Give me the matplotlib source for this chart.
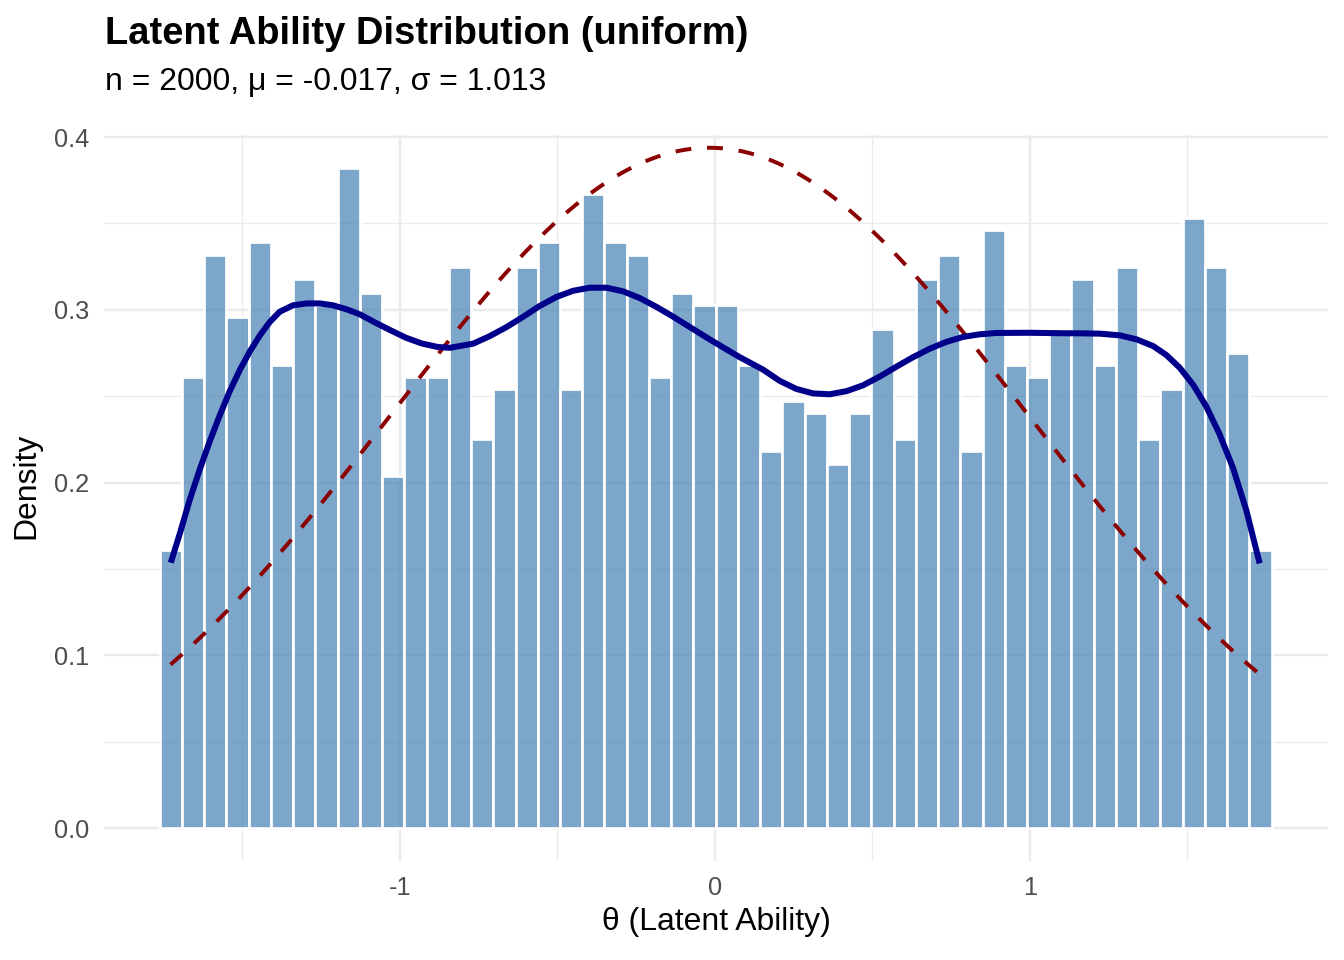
import numpy as np
import matplotlib
matplotlib.use("Agg")
import matplotlib.pyplot as plt

plt.rcParams['font.family'] = ['Liberation Sans', 'DejaVu Sans']

# ---------------- data ----------------
bin_start = -1.762
bin_width = 0.0706
bar_density = [
    0.161, 0.261, 0.332, 0.296, 0.339, 0.268, 0.318, 0.303, 0.382, 0.310,
    0.204, 0.261, 0.261, 0.325, 0.225, 0.254, 0.325, 0.339, 0.254, 0.367,
    0.339, 0.332, 0.261, 0.310, 0.303, 0.303, 0.268, 0.218, 0.247, 0.240,
    0.211, 0.240, 0.289, 0.225, 0.318, 0.332, 0.218, 0.346, 0.268, 0.261,
    0.289, 0.318, 0.268, 0.325, 0.225, 0.254, 0.353, 0.325, 0.275, 0.161,
]

kde_x = [-1.727, -1.698, -1.667, -1.635, -1.603, -1.571, -1.540, -1.508, -1.476,
         -1.444, -1.413, -1.381, -1.339, -1.296, -1.254, -1.212, -1.169, -1.127,
         -1.080, -1.030, -0.980, -0.930, -0.880, -0.841,
         -0.767, -0.714, -0.661, -0.608, -0.556, -0.503, -0.450, -0.397, -0.344,
         -0.291, -0.238, -0.185, -0.132, -0.079, -0.026, 0.026, 0.079, 0.153,
         0.206, 0.259, 0.312, 0.365, 0.418, 0.471, 0.524, 0.577, 0.630, 0.683,
         0.735, 0.788, 0.841, 0.894, 1.000, 1.117, 1.159, 1.222, 1.286, 1.339,
         1.392, 1.434, 1.476, 1.519, 1.561, 1.603, 1.646, 1.688, 1.730]
kde_y = [0.1536, 0.1706, 0.1899, 0.2076, 0.2240, 0.2391, 0.2528, 0.2651, 0.2759,
         0.2852, 0.2929, 0.2989, 0.3026, 0.3037, 0.3037, 0.3026, 0.3003, 0.2974,
         0.2928, 0.2882, 0.2838, 0.2805, 0.2785, 0.2780,
         0.2804, 0.2848, 0.2900, 0.2960, 0.3022, 0.3074, 0.3110, 0.3128, 0.3128,
         0.3107, 0.3068, 0.3017, 0.2960, 0.2900, 0.2840, 0.2783, 0.2726, 0.2654,
         0.2589, 0.2542, 0.2516, 0.2511, 0.2529, 0.2563, 0.2614, 0.2671, 0.2726,
         0.2775, 0.2814, 0.2843, 0.2858, 0.2866, 0.2867, 0.2864, 0.2864, 0.2862,
         0.2852, 0.2829, 0.2790, 0.2738, 0.2665, 0.2566, 0.2439, 0.2279, 0.2082,
         0.1837, 0.1532]

n_obs = 2000
mu = -0.017
sigma = 1.013
data_min = -1.728
data_max = 1.735

x_ticks = [-1, 0, 1]
x_tick_labels = ['-1', '0', '1']
y_ticks = [0.0, 0.1, 0.2, 0.3, 0.4]
y_tick_labels = ['0.0', '0.1', '0.2', '0.3', '0.4']

title = "Latent Ability Distribution (uniform)"
subtitle = f"n = {n_obs}, μ = {mu}, σ = {sigma}"
xlabel = "θ (Latent Ability)"
ylabel = "Density"

# ---------------- figure ----------------
W, H = 1344, 960
fig = plt.figure(figsize=(W / 150, H / 150), dpi=150)
ax = fig.add_axes([104 / W, 1 - 861 / H, (1328 - 104) / W, (861 - 135) / H])

edges = bin_start + bin_width * np.arange(len(bar_density))
ax.bar(edges, bar_density, width=bin_width, align='edge',
       color=(70 / 255, 130 / 255, 180 / 255, 0.7), edgecolor='white',
       linewidth=1.3, zorder=2)

xs = np.linspace(data_min, data_max, 300)
norm_y = np.exp(-0.5 * ((xs - mu) / sigma) ** 2) / (sigma * np.sqrt(2 * np.pi))
ax.plot(xs, norm_y, color='#8B0000', lw=1.9, dashes=(4, 4), zorder=3)
ax.plot(kde_x, kde_y, color='#00008B', lw=2.9, zorder=4,
        solid_capstyle='butt', solid_joinstyle='round')

ax.set_xlim(-1.939, 1.947)
ax.set_ylim(-0.0191, 0.4012)

ax.set_xticks(x_ticks)
ax.set_xticklabels(x_tick_labels)
ax.set_xticks([-1.5, -0.5, 0.5, 1.5], minor=True)
ax.set_yticks(y_ticks)
ax.set_yticklabels(y_tick_labels)
ax.set_yticks([0.05, 0.15, 0.25, 0.35], minor=True)

ax.grid(which='major', color='#EBEBEB', lw=1.16, zorder=0)
ax.grid(which='minor', color='#EBEBEB', lw=0.58, zorder=0)
ax.set_axisbelow(True)
for s in ax.spines.values():
    s.set_visible(False)
ax.tick_params(which='both', length=0)
ax.tick_params(axis='x', pad=7, labelsize=12.2, labelcolor='#4D4D4D')
ax.tick_params(axis='y', pad=7, labelsize=12.2, labelcolor='#4D4D4D')

fig.text(105 / W, 1 - 44 / H, title, fontsize=18.3, fontweight='bold',
         ha='left', va='baseline', color='black')
fig.text(105 / W, 1 - 90 / H, subtitle, fontsize=15.3,
         ha='left', va='baseline', color='black')
fig.text(716 / W, 1 - 930 / H, xlabel, fontsize=15.3, ha='center', va='baseline')
fig.text(26 / W, 1 - 486 / H, ylabel, fontsize=15.3, ha='center', va='center',
         rotation=90)

fig.savefig('out.png', dpi=150, facecolor='white')
